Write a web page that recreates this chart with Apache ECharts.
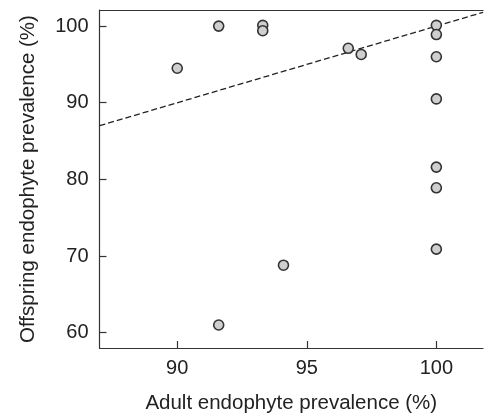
<!DOCTYPE html>
<html>
<head>
<meta charset="utf-8">
<script src="https://cdn.jsdelivr.net/npm/echarts@6/dist/echarts.min.js"></script>
<style>
  html, body { margin: 0; padding: 0; background: #fff; }
  #chart { width: 484px; height: 413px; }
</style>
</head>
<body>
<div id="chart"></div>
<script>
// Adult vs offspring endophyte prevalence per population (%)
const adultPrevalence = [91.6, 93.3, 93.3, 90.0, 96.6, 97.1, 100, 100, 100, 100, 100, 100, 100, 94.1, 91.6];
const offspringPrevalence = [100, 100.1, 99.4, 94.5, 97.1, 96.3, 100.1, 98.9, 96.0, 90.5, 81.6, 78.9, 70.9, 68.8, 61.0];

// 1:1 reference line endpoints
const identityLine = [87, 101.8];

const xTicks = [90, 95, 100];
const yTicks = [60, 70, 80, 90, 100];

const xRange = [87, 101.8];
const yRange = [58, 102.1];

const FONT = '"Liberation Sans", Arial, Helvetica, sans-serif';
const INK = '#222';
const LINE = '#333';

const points = adultPrevalence.map((x, i) => [x, offspringPrevalence[i]]);

const chart = echarts.init(document.getElementById('chart'), null, { renderer: 'canvas' });
chart.setOption({
  animation: false,
  backgroundColor: '#fff',
  grid: { left: 99.5, right: 1, top: 10, bottom: 65, containLabel: false, outerBoundsMode: 'none' },
  xAxis: [
    {
      type: 'value',
      min: xRange[0],
      max: xRange[1],
      name: 'Adult endophyte prevalence (%)',
      nameLocation: 'middle',
      nameGap: 45,
      nameTextStyle: { fontFamily: FONT, fontSize: 20.5, color: INK },
      splitLine: { show: false },
      axisLine: { show: true, lineStyle: { color: LINE, width: 1.2 } },
      axisTick: { show: true, inside: true, length: 7, customValues: xTicks, lineStyle: { color: LINE, width: 1.2 } },
      axisLabel: { customValues: xTicks, margin: 10, fontFamily: FONT, fontSize: 20, color: INK }
    },
    {
      type: 'value',
      position: 'top',
      min: xRange[0],
      max: xRange[1],
      splitLine: { show: false },
      axisLine: { show: true, onZero: false, lineStyle: { color: LINE, width: 1.2 } },
      axisTick: { show: false },
      axisLabel: { show: false }
    }
  ],
  yAxis: {
    type: 'value',
    min: yRange[0],
    max: yRange[1],
    name: 'Offspring endophyte prevalence (%)',
    nameLocation: 'middle',
    nameGap: 61,
    nameTextStyle: { fontFamily: FONT, fontSize: 20.5, color: INK },
    splitLine: { show: false },
    axisLine: { show: true, lineStyle: { color: LINE, width: 1.2 } },
    axisTick: { show: true, inside: true, length: 7, customValues: yTicks, lineStyle: { color: LINE, width: 1.2 } },
    axisLabel: { customValues: yTicks, margin: 11, fontFamily: FONT, fontSize: 20, color: INK }
  },
  series: [
    {
      type: 'line',
      data: identityLine.map(v => [v, v]),
      symbol: 'none',
      silent: true,
      clip: true,
      lineStyle: { color: '#222', width: 1.3, type: [6, 3] },
      z: 1
    },
    {
      type: 'scatter',
      data: points,
      symbol: 'circle',
      symbolSize: 10,
      itemStyle: { color: '#cfcfcf', borderColor: '#333', borderWidth: 1.6, opacity: 1 },
      z: 2
    }
  ]
});
</script>
</body>
</html>
